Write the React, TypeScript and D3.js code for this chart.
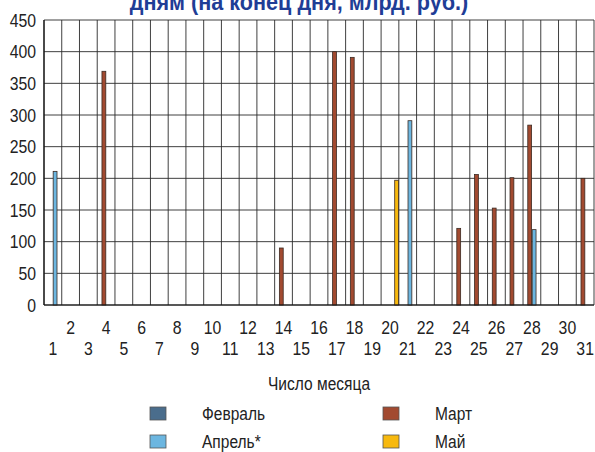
import React from "react";
import * as d3 from "d3";

const days: number[] = [1,2,3,4,5,6,7,8,9,10,11,12,13,14,15,16,17,18,19,20,21,22,23,24,25,26,27,28,29,30,31];
const seriesNames: string[] = ["Февраль", "Март", "Апрель*", "Май"];
const seriesColors: string[] = ["#4a6d8c", "#a24a30", "#6cb6e0", "#f7b90f"];

// values per day (null = no bar)
const febValues: (number | null)[] = [null,null,null,null,null,null,null,null,null,null,null,null,null,null,null,null,null,null,null,null,null,null,null,null,null,null,null,null,null,null,null];
const marValues: (number | null)[] = [null,null,null,369,null,null,null,null,null,null,null,null,null,90,null,null,400,391,null,null,null,null,null,121,206,153,201,284,null,null,200];
const aprValues: (number | null)[] = [211,null,null,null,null,null,null,null,null,null,null,null,null,null,null,null,null,null,null,null,291,null,null,null,null,null,null,119,null,null,null];
const mayValues: (number | null)[] = [null,null,null,null,null,null,null,null,null,null,null,null,null,null,null,null,null,null,null,197,null,null,null,null,null,null,null,null,null,null,null];
const yTicks: number[] = [0,50,100,150,200,250,300,350,400,450];

const titleText = "дням (на конец дня, млрд. руб.)";
const xAxisTitle = "Число месяца";

const FONT = "'Liberation Sans', Arial, sans-serif";
const SX = 0.84;

function Txt(props: { x: number; y: number; anchor?: string; size: number; weight?: string; fill?: string; sx?: number; children: React.ReactNode }) {
  const { x, y, anchor = "start", size, weight = "normal", fill = "#222", sx = SX, children } = props;
  return (
    <text transform={`translate(${x},${y}) scale(${sx},1)`} textAnchor={anchor} fontSize={size}
      fontWeight={weight} fill={fill} fontFamily={FONT}>{children}</text>
  );
}

export default function App() {
  const W = 595, H = 452;
  const left = 44, right = 594, top = 20, bottom = 305;
  const series = [febValues, marValues, aprValues, mayValues];

  const x = d3.scaleBand<number>().domain(days).range([left, right]).padding(0);
  const sub = d3.scaleBand<number>().domain([0, 1, 2, 3]).range([0, x.bandwidth()]).padding(0);
  const y = d3.scaleLinear().domain([0, 450]).range([bottom, top]);

  const vLines = days.map((d) => x(d) as number).concat([right]);

  const legend = [
    { i: 0, sx: 150, sy: 407, tx: 202, ty: 420 },
    { i: 1, sx: 383, sy: 407, tx: 435, ty: 420 },
    { i: 2, sx: 150, sy: 435, tx: 202, ty: 448 },
    { i: 3, sx: 383, sy: 435, tx: 435, ty: 448 },
  ];

  return (
    <svg width={W} height={H} style={{ position: "absolute", left: 0, top: 0, background: "#fff" }}>
      <rect x={0} y={0} width={W} height={H} fill="#fff" />
      <Txt x={299} y={10} anchor="middle" size={24} weight="bold" fill="#1f3d96" sx={0.9}>{titleText}</Txt>

      {/* grid */}
      {yTicks.map((t) => (
        <line key={"h" + t} x1={left} x2={right} y1={y(t)} y2={y(t)} stroke="#2a2a2a" strokeWidth={0.9} />
      ))}
      {vLines.map((vx, i) => (
        <line key={"v" + i} x1={vx} x2={vx} y1={top} y2={bottom} stroke="#2a2a2a" strokeWidth={0.9} />
      ))}

      {/* bars */}
      {series.map((vals, si) =>
        vals.map((v, di) =>
          v == null ? null : (
            <rect key={si + "-" + di}
              x={(x(days[di]) as number) + (sub(si) as number) + 0.3}
              y={y(v)}
              width={sub.bandwidth() - 0.6}
              height={y(0) - y(v)}
              fill={seriesColors[si]} stroke="#3b2a22" strokeWidth={0.8} />
          )
        )
      )}

      {/* axes */}
      <line x1={left} x2={left} y1={top} y2={bottom} stroke="#111" strokeWidth={1.2} />
      <line x1={left} x2={right} y1={bottom} y2={bottom} stroke="#111" strokeWidth={1.2} />

      {yTicks.map((t) => (
        <Txt key={"yl" + t} x={36} y={y(t) + 6.8} anchor="end" size={18.8}>{t}</Txt>
      ))}
      {days.map((d) => (
        <Txt key={"xl" + d} x={(x(d) as number) + x.bandwidth() / 2} y={d % 2 === 0 ? 333.5 : 355}
          anchor="middle" size={18.8}>{d}</Txt>
      ))}

      <Txt x={319} y={390} anchor="middle" size={18.5}>{xAxisTitle}</Txt>

      {legend.map((l) => (
        <g key={"lg" + l.i}>
          <rect x={l.sx} y={l.sy} width={16} height={13} fill={seriesColors[l.i]} stroke="#555" strokeWidth={0.8} />
          <Txt x={l.tx} y={l.ty} size={18.5}>{seriesNames[l.i]}</Txt>
        </g>
      ))}
    </svg>
  );
}
